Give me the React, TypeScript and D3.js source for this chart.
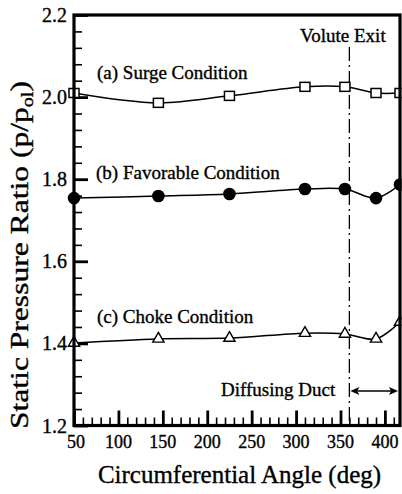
import React, { useEffect, useRef } from "react";
import * as d3 from "d3";

const angles = [50, 145, 225, 310, 355, 390, 417];
const surge = [2.010, 1.986, 2.003, 2.025, 2.025, 2.010, 2.010];
const favorable = [1.754, 1.759, 1.764, 1.776, 1.776, 1.754, 1.787];
const choke = [1.401, 1.411, 1.413, 1.425, 1.423, 1.411, 1.452];
const xTicks = [50, 100, 150, 200, 250, 300, 350, 400];
const yTicks = [1.2, 1.4, 1.6, 1.8, 2.0, 2.2];
const voluteExit = 360;
const labels = ["(a) Surge Condition", "(b) Favorable Condition", "(c) Choke Condition"];

const W = 402, H = 494;
const L = 74, R = 400, T = 15, B = 425.5;
const FONT = "'Liberation Serif', 'Times New Roman', serif";

export default function App() {
  const ref = useRef<SVGSVGElement>(null);

  useEffect(() => {
    const svg = d3.select(ref.current);
    svg.selectAll("*").remove();
    const x = d3.scaleLinear().domain([50, 417]).range([L, R]);
    const y = d3.scaleLinear().domain([1.2, 2.2]).range([B, T]);
    const pts = (vals: number[]) => angles.map((a, i) => [a, vals[i]] as [number, number]);
    const line = d3.line<[number, number]>().x((d) => x(d[0])).y((d) => y(d[1])).curve(d3.curveCatmullRom.alpha(0.5));

    svg.append("rect").attr("width", W).attr("height", H).attr("fill", "#fff");

    const xMinor = d3.range(60, 417, 10).filter((v) => v % 50 !== 0);
    const yMinor = d3.range(0, 26).filter((i) => i % 5 !== 0).map((i) => 1.2 + i * 0.04);

    const axisStyle = (g: any, w: number) => {
      g.select(".domain").remove();
      g.selectAll(".tick line").attr("stroke", "#000").attr("stroke-width", w);
      g.selectAll("text").remove();
    };
    svg.append("g").attr("transform", `translate(0,${B})`)
      .call(d3.axisBottom(x).tickValues(xMinor).tickSize(-8)).call((g: any) => axisStyle(g, 1.6));
    svg.append("g").attr("transform", `translate(0,${B})`)
      .call(d3.axisBottom(x).tickValues(xTicks).tickSize(-15)).call((g: any) => axisStyle(g, 2.8));
    svg.append("g").attr("transform", `translate(${L},0)`)
      .call(d3.axisLeft(y).tickValues(yMinor).tickSize(-8)).call((g: any) => axisStyle(g, 1.6));
    svg.append("g").attr("transform", `translate(${L},0)`)
      .call(d3.axisLeft(y).tickValues(yTicks).tickSize(-14)).call((g: any) => axisStyle(g, 2.8));

    svg.append("line").attr("x1", x(voluteExit)).attr("x2", x(voluteExit)).attr("y1", 47).attr("y2", B)
      .attr("stroke", "#000").attr("stroke-width", 1.3).attr("stroke-dasharray", "14,4,2,4");

    const data = svg.append("g");
    [surge, favorable, choke].forEach((s) => {
      data.append("path").attr("d", line(pts(s)) || "").attr("fill", "none").attr("stroke", "#000").attr("stroke-width", 1.5);
    });
    data.selectAll("rect.sq").data(pts(surge)).enter().append("rect")
      .attr("x", (d) => x(d[0]) - 5).attr("y", (d) => y(d[1]) - 4.5).attr("width", 10).attr("height", 9)
      .attr("fill", "#fff").attr("stroke", "#000").attr("stroke-width", 1.5);
    data.selectAll("circle").data(pts(favorable)).enter().append("circle")
      .attr("cx", (d) => x(d[0])).attr("cy", (d) => y(d[1])).attr("r", 6.3).attr("fill", "#000");
    const tri = d3.symbol().type(d3.symbolTriangle).size(55)();
    data.selectAll("path.tri").data(pts(choke)).enter().append("path")
      .attr("d", tri || "").attr("transform", (d) => `translate(${x(d[0])},${y(d[1])})`)
      .attr("fill", "#fff").attr("stroke", "#000").attr("stroke-width", 1.4);

    svg.append("rect").attr("x", R + 1.6).attr("y", 0).attr("width", 10).attr("height", H).attr("fill", "#fff");
    svg.append("rect").attr("x", L).attr("y", T).attr("width", R - L).attr("height", B - T)
      .attr("fill", "none").attr("stroke", "#000").attr("stroke-width", 3.2);

    const tg = svg.append("g").attr("font-family", FONT).attr("stroke", "#000").attr("stroke-width", 0.35).attr("fill", "#000");
    yTicks.forEach((v) => {
      tg.append("text").attr("x", 67).attr("y", y(v)).attr("dy", "0.35em").attr("text-anchor", "end").attr("font-size", 20).text(v.toFixed(1));
    });
    xTicks.forEach((v) => {
      tg.append("text").attr("x", x(v) + (v === 50 ? 2 : 0)).attr("y", 447.5).attr("text-anchor", "middle").attr("font-size", 18).text(String(v));
    });
    tg.append("text").attr("x", 300).attr("y", 42).attr("font-size", 19).text("Volute Exit");
    tg.append("text").attr("x", 97).attr("y", 79).attr("font-size", 19).text(labels[0]);
    tg.append("text").attr("x", 96).attr("y", 179).attr("font-size", 19).text(labels[1]);
    tg.append("text").attr("x", 97).attr("y", 323).attr("font-size", 19).text(labels[2]);
    tg.append("text").attr("x", 221).attr("y", 396).attr("font-size", 19).text("Diffusing Duct");
    tg.append("text").attr("x", 239.5).attr("y", 483).attr("text-anchor", "middle").attr("font-size", 25).text("Circumferential Angle (deg)");
    const yt = tg.append("text").attr("transform", "translate(28,255) rotate(-90)").attr("text-anchor", "middle")
      .attr("font-size", 25).attr("textLength", 348).attr("lengthAdjust", "spacingAndGlyphs");
    yt.append("tspan").text("Static Pressure Ratio (p/p");
    yt.append("tspan").attr("font-size", 16).attr("dy", 5).text("ol");
    yt.append("tspan").attr("dy", -5).text(")");

    const ax = x(voluteExit);
    svg.append("line").attr("x1", ax + 8).attr("x2", R - 8).attr("y1", 391).attr("y2", 391).attr("stroke", "#000").attr("stroke-width", 1.3);
    svg.append("path").attr("d", `M${ax + 1},391 l9,-4 l-2,4 l2,4 Z`).attr("fill", "#000");
    svg.append("path").attr("d", `M${R - 2},391 l-9,-4 l2,4 l-2,4 Z`).attr("fill", "#000");
  }, []);

  return <svg ref={ref} width={W} height={H} style={{ position: "absolute", left: 0, top: 0 }} />;
}
